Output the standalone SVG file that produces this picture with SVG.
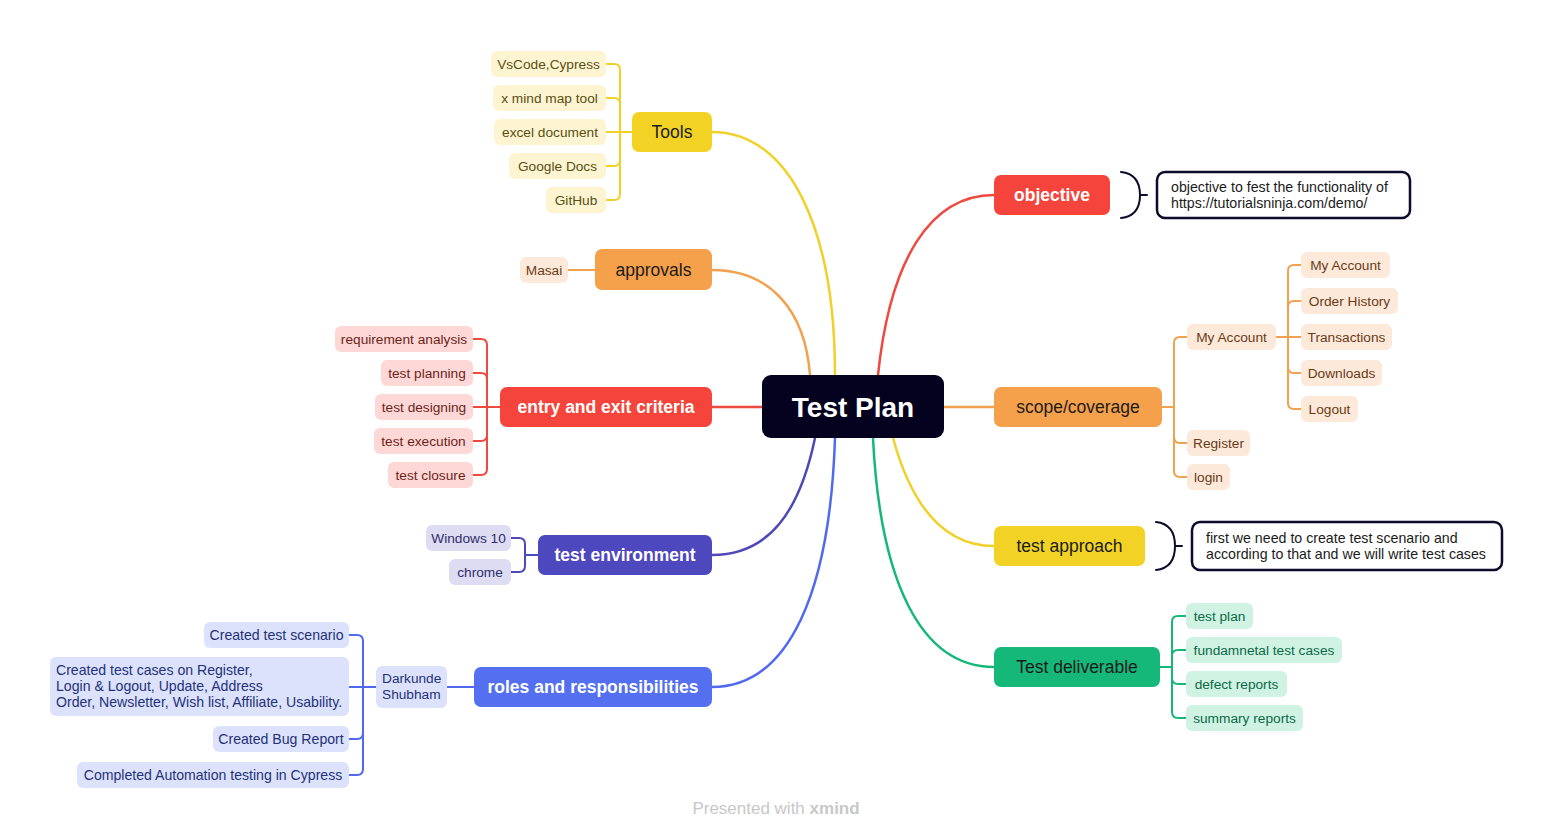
<svg xmlns="http://www.w3.org/2000/svg" width="1553" height="839" viewBox="0 0 1553 839">
<style>
text{font-family:"Liberation Sans",Arial,sans-serif}
.main{font-size:17.5px;text-anchor:middle;dominant-baseline:central}
.w{fill:#fff;font-weight:bold}
.d{fill:#1b1b1b}
.sub{font-size:13.7px;text-anchor:middle;dominant-baseline:central}
.st{font-size:13.7px}
.rl{font-size:14.1px}
.nt{font-size:14.2px;fill:#1b1b1b}
.c{fill:none;stroke-width:2.5;stroke-linecap:round}
.b{fill:none;stroke-width:2;stroke-linecap:round;stroke-linejoin:round}
.y{stroke:#F0D12A}.o{stroke:#F2A24E}.r{stroke:#EE4A40}.p{stroke:#4E48B8}.bl{stroke:#5069EE}.g{stroke:#16B87A}.k{stroke:#0D0B2B}
.fy{fill:#FDF5D2}.ty{fill:#5A4E12}
.fo{fill:#FDE9DA}.to{fill:#6B3A16}
.fr{fill:#FDD8D6}.tr{fill:#6E1F1A}
.fp{fill:#DDDCF2}.tp{fill:#302E6C}
.fb{fill:#DCE2FB}.tb{fill:#24317A}
.fg{fill:#CFF2E3}.tg{fill:#0C6A46}
</style>
<rect width="1553" height="839" fill="#fff"/>
<g id="connectors">
<path class="c y" d="M835,375 C835,230 790,132 712,132"/>
<path class="c o" d="M810,375 C805,310 770,270 712,270"/>
<path class="c r" d="M762,407 H712"/>
<path class="c p" d="M815,438 C800,510 770,555 712,555"/>
<path class="c bl" d="M835,438 C830,590 790,687 712,687"/>
<path class="c r" d="M878,375 C890,260 930,195 994,195"/>
<path class="c o" d="M944,407 H994"/>
<path class="c y" d="M893,438 C910,500 940,546 994,546"/>
<path class="c g" d="M873,438 C880,580 920,667 994,667"/>
<path class="b y" d="M606,64 H614 Q620,64 620,70 V194 Q620,200 614,200 H606 M606,98 H614 Q620,98 620,104 M606,166 H614 Q620,166 620,160 M606,132 H632"/>
<path class="b o" d="M568,270 H595"/>
<path class="b r" d="M473,339 H481 Q487,339 487,345 V469 Q487,475 481,475 H473 M473,373 H481 Q487,373 487,379 M473,441 H481 Q487,441 487,435 M473,407 H500"/>
<path class="b p" d="M511,538 H519 Q525,538 525,544 V566 Q525,572 519,572 H511 M525,555 H538"/>
<path class="b bl" d="M447,687 H474 M349,635 H357 Q363,635 363,641 V769 Q363,775 357,775 H349 M349,739 H357 Q363,739 363,733 M349,687 H376"/>
<path class="b o" d="M1187,337 H1180 Q1174,337 1174,343 V471 Q1174,477 1180,477 H1187 M1187,443 H1180 Q1174,443 1174,437 M1162,407 H1174"/>
<path class="b o" d="M1301,265 H1294 Q1288,265 1288,271 V403 Q1288,409 1294,409 H1301 M1301,301 H1294 Q1288,301 1288,307 M1301,373 H1294 Q1288,373 1288,367 M1276,337 H1301"/>
<path class="b g" d="M1186,616 H1178 Q1172,616 1172,622 V712 Q1172,718 1178,718 H1186 M1186,650 H1178 Q1172,650 1172,656 M1186,684 H1178 Q1172,684 1172,678 M1160,667 H1172"/>
<path class="b k" d="M1121,172 Q1140,174 1140,195 Q1140,216 1121,218 M1140,195 H1147"/>
<path class="b k" d="M1156,522 Q1175,524 1175,546 Q1175,568 1156,570 M1175,546 H1182"/>
</g>
<g id="center"><rect x="762" y="375" width="182" height="63" rx="9" fill="#04021F"/><text x="853" y="407" font-size="28" font-weight="bold" fill="#fff" text-anchor="middle" dominant-baseline="central">Test Plan</text></g>
<g id="tools"><rect x="632" y="112" width="80" height="40" rx="7" fill="#F2D325"/><text class="main d" x="672" y="132">Tools</text></g>
<g id="tools-1"><rect class="fy" x="491" y="51" width="115" height="26" rx="6"/><text class="sub ty" x="548.5" y="64">VsCode,Cypress</text></g>
<g id="tools-2"><rect class="fy" x="493" y="85" width="113" height="26" rx="6"/><text class="sub ty" x="549.5" y="98">x mind map tool</text></g>
<g id="tools-3"><rect class="fy" x="494" y="119" width="112" height="26" rx="6"/><text class="sub ty" x="550" y="132">excel document</text></g>
<g id="tools-4"><rect class="fy" x="509" y="153" width="97" height="26" rx="6"/><text class="sub ty" x="557.5" y="166">Google Docs</text></g>
<g id="tools-5"><rect class="fy" x="546" y="187" width="60" height="26" rx="6"/><text class="sub ty" x="576" y="200">GitHub</text></g>
<g id="approvals"><rect x="595" y="249" width="117" height="41" rx="7" fill="#F5A04A"/><text class="main d" x="653.5" y="270">approvals</text></g>
<g id="approvals-1"><rect class="fo" x="520" y="257" width="48" height="26" rx="6"/><text class="sub to" x="544" y="270">Masai</text></g>
<g id="entry"><rect x="500" y="387" width="212" height="40" rx="7" fill="#F5443C"/><text class="main w" x="606" y="407">entry and exit criteria</text></g>
<g id="entry-1"><rect class="fr" x="335" y="326" width="138" height="26" rx="6"/><text class="sub tr" x="404" y="339">requirement analysis</text></g>
<g id="entry-2"><rect class="fr" x="381" y="360" width="92" height="26" rx="6"/><text class="sub tr" x="427" y="373">test planning</text></g>
<g id="entry-3"><rect class="fr" x="375" y="394" width="98" height="26" rx="6"/><text class="sub tr" x="424" y="407">test designing</text></g>
<g id="entry-4"><rect class="fr" x="374" y="428" width="99" height="26" rx="6"/><text class="sub tr" x="423.5" y="441">test execution</text></g>
<g id="entry-5"><rect class="fr" x="388" y="462" width="85" height="26" rx="6"/><text class="sub tr" x="430.5" y="475">test closure</text></g>
<g id="env"><rect x="538" y="535" width="174" height="40" rx="7" fill="#4E48BE"/><text class="main w" x="625" y="555">test environment</text></g>
<g id="env-1"><rect class="fp" x="426" y="525" width="85" height="26" rx="6"/><text class="sub tp" x="468.5" y="538">Windows 10</text></g>
<g id="env-2"><rect class="fp" x="449" y="559" width="62" height="26" rx="6"/><text class="sub tp" x="480" y="572">chrome</text></g>
<g id="roles"><rect x="474" y="667" width="238" height="40" rx="7" fill="#5470F0"/><text class="main w" x="593" y="687">roles and responsibilities</text></g>
<g id="roles-person"><rect class="fb" x="376" y="666" width="71" height="42" rx="6"/><text class="st tb" x="382" y="683">Darkunde</text><text class="st tb" x="382" y="699">Shubham</text></g>
<g id="roles-1"><rect class="fb" x="204" y="622" width="145" height="26" rx="6"/><text class="sub rl tb" x="276.5" y="635">Created test scenario</text></g>
<g id="roles-2"><rect class="fb" x="50" y="657" width="299" height="59" rx="6"/><text class="rl tb" x="56" y="675">Created test cases on Register,</text><text class="rl tb" x="56" y="691">Login &amp; Logout, Update, Address</text><text class="rl tb" x="56" y="707">Order, Newsletter, Wish list, Affiliate, Usability.</text></g>
<g id="roles-3"><rect class="fb" x="213" y="726" width="136" height="26" rx="6"/><text class="sub rl tb" x="281" y="739">Created Bug Report</text></g>
<g id="roles-4"><rect class="fb" x="77" y="762" width="272" height="26" rx="6"/><text class="sub rl tb" x="213" y="775">Completed Automation testing in Cypress</text></g>
<g id="objective"><rect x="994" y="175" width="116" height="40" rx="7" fill="#F5443C"/><text class="main w" x="1052" y="195">objective</text></g>
<g id="objective-note"><rect x="1157" y="172" width="253" height="46" rx="8" fill="#fff" stroke="#0D0B2B" stroke-width="2.5"/><text class="nt" x="1171" y="192">objective to fest the functionality of</text><text class="nt" x="1171" y="208">https://tutorialsninja.com/demo/</text></g>
<g id="scope"><rect x="994" y="387" width="168" height="40" rx="7" fill="#F5A04A"/><text class="main d" x="1078" y="407">scope/coverage</text></g>
<g id="scope-1"><rect class="fo" x="1187" y="324" width="89" height="26" rx="6"/><text class="sub to" x="1231.5" y="337">My Account</text></g>
<g id="scope-1-1"><rect class="fo" x="1301" y="252" width="89" height="26" rx="6"/><text class="sub to" x="1345.5" y="265">My Account</text></g>
<g id="scope-1-2"><rect class="fo" x="1301" y="288" width="97" height="26" rx="6"/><text class="sub to" x="1349.5" y="301">Order History</text></g>
<g id="scope-1-3"><rect class="fo" x="1301" y="324" width="91" height="26" rx="6"/><text class="sub to" x="1346.5" y="337">Transactions</text></g>
<g id="scope-1-4"><rect class="fo" x="1301" y="360" width="81" height="26" rx="6"/><text class="sub to" x="1341.5" y="373">Downloads</text></g>
<g id="scope-1-5"><rect class="fo" x="1301" y="396" width="57" height="26" rx="6"/><text class="sub to" x="1329.5" y="409">Logout</text></g>
<g id="scope-2"><rect class="fo" x="1187" y="430" width="63" height="26" rx="6"/><text class="sub to" x="1218.5" y="443">Register</text></g>
<g id="scope-3"><rect class="fo" x="1187" y="464" width="43" height="26" rx="6"/><text class="sub to" x="1208.5" y="477">login</text></g>
<g id="approach"><rect x="994" y="526" width="151" height="40" rx="7" fill="#F2D325"/><text class="main d" x="1069.5" y="546">test approach</text></g>
<g id="approach-note"><rect x="1192" y="522" width="310" height="48" rx="8" fill="#fff" stroke="#0D0B2B" stroke-width="2.5"/><text class="nt" x="1206" y="543">first we need to create test scenario and</text><text class="nt" x="1206" y="559">according to that and we will write test cases</text></g>
<g id="deliverable"><rect x="994" y="647" width="166" height="40" rx="7" fill="#16B87A"/><text class="main d" x="1077" y="667">Test deliverable</text></g>
<g id="deliverable-1"><rect class="fg" x="1186" y="603" width="67" height="26" rx="6"/><text class="sub tg" x="1219.5" y="616">test plan</text></g>
<g id="deliverable-2"><rect class="fg" x="1186" y="637" width="156" height="26" rx="6"/><text class="sub tg" x="1264" y="650">fundamnetal test cases</text></g>
<g id="deliverable-3"><rect class="fg" x="1186" y="671" width="101" height="26" rx="6"/><text class="sub tg" x="1236.5" y="684">defect reports</text></g>
<g id="deliverable-4"><rect class="fg" x="1186" y="705" width="117" height="26" rx="6"/><text class="sub tg" x="1244.5" y="718">summary reports</text></g>
<text x="776" y="808" font-size="17" fill="#C8C8C8" text-anchor="middle" dominant-baseline="central">Presented with <tspan font-weight="bold">xmind</tspan></text>
</svg>
